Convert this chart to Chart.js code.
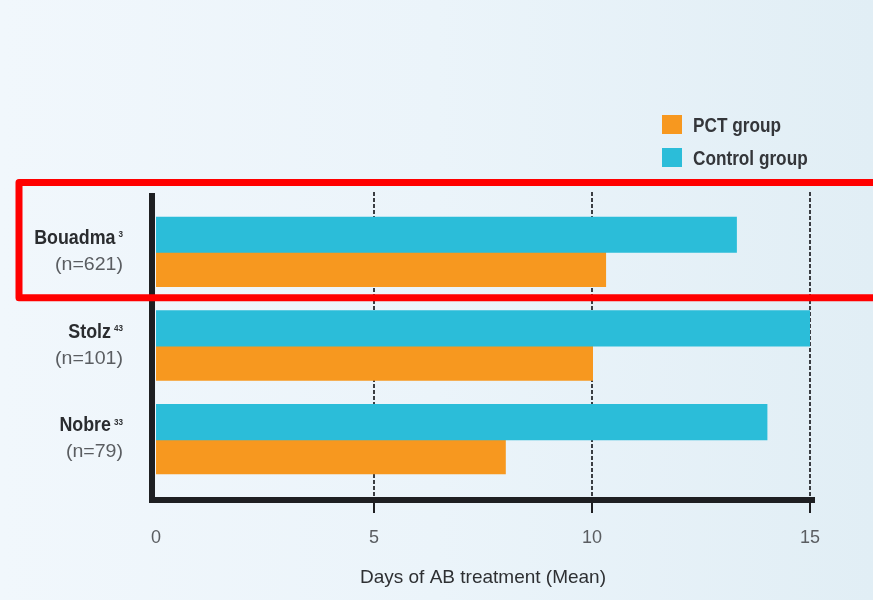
<!DOCTYPE html>
<html>
<head>
<meta charset="utf-8">
<script src="https://cdn.jsdelivr.net/npm/chart.js@4/dist/chart.umd.min.js"></script>
<style>
  html, body { margin: 0; padding: 0; background: #e9f3f9; }
  #wrap { width: 873px; height: 600px; }
</style>
</head>
<body>
<div id="wrap"><canvas id="c" width="873" height="600"></canvas></div>
<script>
// Mean days of antibiotic treatment per study
const studies = ['Bouadma', 'Stolz', 'Nobre'];
const refs = ['3', '43', '33'];
const sizes = ['(n=621)', '(n=101)', '(n=79)'];
const controlDays = [13.3, 15, 14];
const pctDays = [10.3, 10, 8];
const xTicks = [0, 5, 10, 15];
const gridAt = [5, 10, 15];

const FONT = '"Liberation Sans", Arial, sans-serif';
const ORANGE = '#f7981f';
const CYAN = '#2bbdd9';

// draws text squeezed horizontally to get a condensed face
function narrowText(ctx, text, x, y, font, color, align, squeeze) {
  ctx.save();
  ctx.font = font;
  ctx.fillStyle = color;
  ctx.textBaseline = 'middle';
  ctx.textAlign = 'left';
  const w = ctx.measureText(text).width * squeeze;
  const left = align === 'right' ? x - w : x;
  ctx.translate(left, y);
  ctx.scale(squeeze, 1);
  ctx.fillText(text, 0, 0);
  ctx.restore();
  return w;
}

function textWidth(ctx, text, font, squeeze) {
  ctx.save();
  ctx.font = font;
  const w = ctx.measureText(text).width * squeeze;
  ctx.restore();
  return w;
}

const background = {
  id: 'background',
  beforeDraw(chart) {
    const { ctx, width, height } = chart;
    const g = ctx.createLinearGradient(0, 0, width, 0);
    g.addColorStop(0, '#f1f7fc');
    g.addColorStop(0.5, '#ebf4fa');
    g.addColorStop(1, '#e1eef5');
    ctx.save();
    ctx.fillStyle = g;
    ctx.fillRect(0, 0, width, height);
    ctx.restore();
  }
};

// dotted reference lines behind the bars
const grid = {
  id: 'dottedGrid',
  beforeDatasetsDraw(chart) {
    const { ctx, chartArea } = chart;
    const x = chart.scales.x;
    ctx.save();
    ctx.strokeStyle = '#3a3d42';
    ctx.lineWidth = 2;
    ctx.setLineDash([4, 2]);
    gridAt.forEach(v => {
      const px = Math.round(x.getPixelForValue(v));
      ctx.beginPath();
      ctx.moveTo(px, chartArea.top - 13);
      ctx.lineTo(px, chartArea.bottom + 12);
      ctx.stroke();
    });
    ctx.restore();
  }
};

// axes frame, category labels, legend and highlight box
const overlay = {
  id: 'overlay',
  afterDatasetsDraw(chart) {
    const { ctx, chartArea } = chart;
    const x = chart.scales.x, y = chart.scales.y;
    const axisY = chartArea.bottom + 14;
    const axisX = chartArea.left - 4;
    ctx.save();
    ctx.strokeStyle = '#1e1f22';
    ctx.lineCap = 'butt';
    ctx.lineWidth = 6;
    ctx.beginPath();
    ctx.moveTo(axisX, chartArea.top - 12);
    ctx.lineTo(axisX, axisY + 3);
    ctx.moveTo(axisX - 3, axisY);
    ctx.lineTo(x.getPixelForValue(15) + 5, axisY);
    ctx.stroke();
    ctx.lineWidth = 2;
    gridAt.forEach(v => {
      const px = Math.round(x.getPixelForValue(v));
      ctx.beginPath();
      ctx.moveTo(px, axisY);
      ctx.lineTo(px, axisY + 13);
      ctx.stroke();
    });
    ctx.restore();

    // category labels with reference superscripts
    const right = 123;
    const nameFont = 'bold 21px ' + FONT;
    const supFont = 'bold 9px ' + FONT;
    studies.forEach((name, i) => {
      const cy = y.getPixelForValue(i);
      const supW = textWidth(ctx, refs[i], supFont, 0.9);
      narrowText(ctx, refs[i], right - supW, cy - 17, supFont, '#2e3033', 'left', 0.9);
      narrowText(ctx, name, right - supW - 3, cy - 13.5, nameFont, '#2a2c2f', 'right', 0.85);
      narrowText(ctx, sizes[i], right, cy + 13, '19px ' + FONT, '#5a5d61', 'right', 1.03);
    });

    // legend
    const items = chart.data.datasets.slice().reverse();
    items.forEach((ds, i) => {
      const top = 115 + i * 33;
      ctx.save();
      ctx.fillStyle = ds.backgroundColor;
      ctx.fillRect(662, top, 20, 19);
      ctx.restore();
      narrowText(ctx, ds.label, 693, top + 11, 'bold 20px ' + FONT, '#34363a', 'left', 0.86);
    });

    // highlight box around the first study
    const c0 = y.getPixelForValue(0);
    const band = (chartArea.bottom - chartArea.top) / studies.length;
    const top = c0 - band * 0.74;
    const bottom = c0 + band * 0.49;
    ctx.save();
    ctx.strokeStyle = '#ff0000';
    ctx.lineWidth = 7;
    ctx.lineJoin = 'round';
    ctx.beginPath();
    ctx.moveTo(chart.width + 10, top);
    ctx.lineTo(19, top);
    ctx.lineTo(19, bottom);
    ctx.lineTo(chart.width + 10, bottom);
    ctx.stroke();
    ctx.restore();
  }
};

new Chart(document.getElementById('c'), {
  type: 'bar',
  data: {
    labels: studies,
    datasets: [
      { label: 'Control group', data: controlDays, backgroundColor: CYAN },
      { label: 'PCT group', data: pctDays, backgroundColor: ORANGE }
    ]
  },
  options: {
    indexAxis: 'y',
    responsive: false,
    devicePixelRatio: 1,
    animation: false,
    layout: { padding: { left: 156, right: 63, top: 205, bottom: 0 } },
    datasets: { bar: { barPercentage: 1, categoryPercentage: 0.73, inflateAmount: 1 } },
    plugins: { legend: { display: false }, tooltip: { enabled: false } },
    scales: {
      y: { type: 'category', display: false, offset: true },
      x: {
        type: 'linear', min: 0, max: 15,
        afterBuildTicks(scale) { scale.ticks = xTicks.map(v => ({ value: v })); },
        afterFit(scale) { scale.height = 114; },
        grid: { display: false, drawTicks: false },
        border: { display: false },
        ticks: { color: '#5a5d61', font: { family: FONT, size: 18 }, padding: 41 },
        title: {
          display: true, text: 'Days of AB treatment (Mean)', color: '#2e3033',
          font: { family: FONT, size: 19 }, padding: { top: 0, bottom: 11 }
        }
      }
    }
  },
  plugins: [background, grid, overlay]
});
</script>
</body>
</html>
